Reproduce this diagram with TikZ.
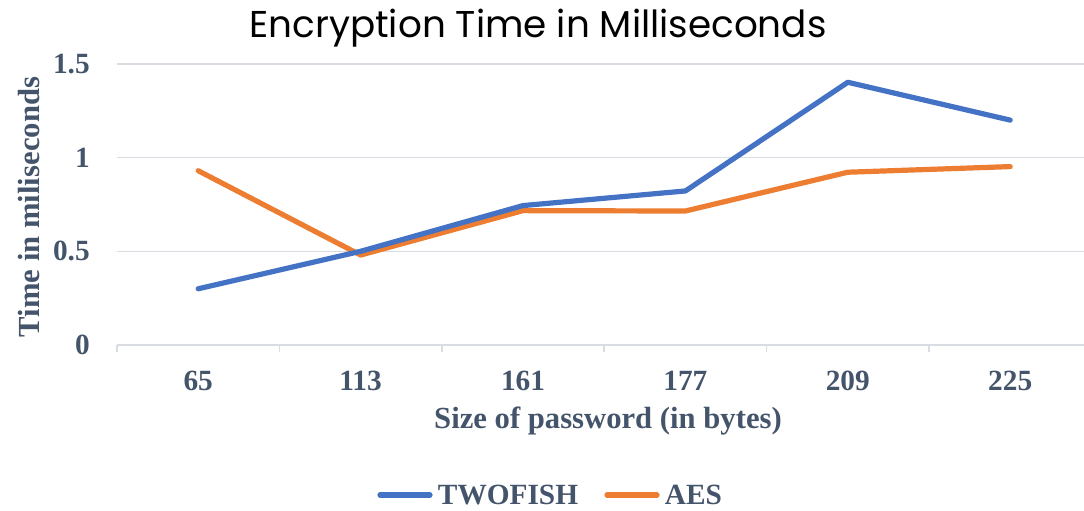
\documentclass[tikz,border=0pt]{standalone}
\usepackage{fontspec}
\setmainfont{Liberation Serif}
\newfontfamily\titlefont{Poppins}
\definecolor{twofish}{HTML}{4472C4}
\definecolor{aes}{HTML}{ED7D31}
\definecolor{axistext}{HTML}{44546A}
\definecolor{gridgray}{HTML}{D9DCE3}
\tikzset{
  grid line/.style={gridgray, line width=1.1pt},
  series/.style={line width=3.9pt, line cap=round, line join=round},
  ticklabel/.style={text=axistext, inner sep=0pt, font=\fontsize{22}{22}\selectfont\bfseries},
  axistitle/.style={text=axistext, inner sep=0pt, font=\fontsize{23}{23}\selectfont\bfseries},
}
\begin{document}
\begin{tikzpicture}[x=0.75pt, y=-0.75pt]
  \useasboundingbox (0,0) rectangle (1084,510);
  \node[inner sep=0pt, font=\titlefont\fontsize{28}{28}\selectfont] (title) at (538,28) {Encryption Time in Milliseconds};
  \foreach \v [count=\i] in {0,0.5,1,1.5} {
    \draw[grid line] (117,{345-\v*187.4}) -- (1084,{345-\v*187.4});
    \node[ticklabel, anchor=east] (y\i) at (90,{345-\v*187.4}) {\v};
  }
  \foreach \k in {0,...,5}
    \draw[grid line] ({117+\k*162.4},345) -- ++(0,7);
  \foreach \lbl [count=\i] in {65,113,161,177,209,225}
    \node[ticklabel] (x\i) at ({117+(\i-0.5)*162.4},381) {\lbl};
  \node[axistitle] (xtitle) at (608,421) {Size of password (in bytes)};
  \node[axistitle, rotate=90] (ytitle) at (29,207) {Time in miliseconds};
  \foreach \v [count=\i] in {0.30,0.50,0.744,0.822,1.402,1.20}
    \coordinate (tf\i) at ({117+(\i-0.5)*162.4},{345-\v*187.4});
  \foreach \v [count=\i] in {0.93,0.48,0.717,0.715,0.922,0.952}
    \coordinate (aes\i) at ({117+(\i-0.5)*162.4},{345-\v*187.4});
  \draw[series, aes] (aes1) -- (aes2) -- (aes3) -- (aes4) -- (aes5) -- (aes6);
  \draw[series, twofish] (tf1) -- (tf2) -- (tf3) -- (tf4) -- (tf5) -- (tf6);
  \coordinate (ltf) at (380,495);
  \coordinate (laes) at (607,495);
  \draw[series, twofish] (ltf) -- ++(50,0) node[ticklabel, anchor=west, xshift=4pt] (ltftext) {TWOFISH};
  \draw[series, aes] (laes) -- ++(50,0) node[ticklabel, anchor=west, xshift=4pt] (laestext) {AES};
\end{tikzpicture}
\end{document}
